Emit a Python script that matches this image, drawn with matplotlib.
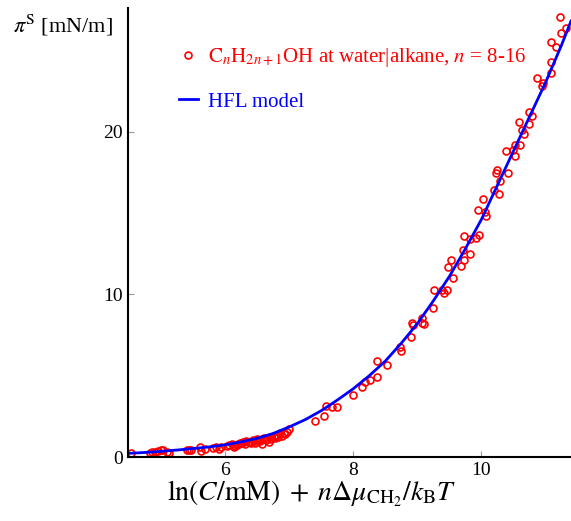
import numpy as np
import matplotlib.pyplot as plt

# measured points: C_nH_2n+1OH at water|alkane
x_data = [4.52, 4.82, 4.86, 4.90, 4.95, 5.00, 5.03, 5.09, 5.12,
          5.40, 5.44, 5.47, 5.60, 5.62, 5.68, 5.81, 5.86, 5.90, 5.93,
          6.02, 6.06, 6.10, 6.13, 6.15, 6.18, 6.20, 6.23, 6.26, 6.28, 6.31, 6.33, 6.36, 6.38, 6.40,
          6.43, 6.46, 6.48, 6.49, 6.52, 6.54, 6.57, 6.58, 6.60, 6.63, 6.65, 6.68, 6.70, 6.72,
          6.76, 6.78, 6.81, 6.83, 6.86, 6.88, 6.91, 6.94, 6.97, 6.99,
          7.40, 7.54, 7.58, 7.66, 7.74, 7.99, 8.13, 8.18, 8.26, 8.37, 8.37, 8.52,
          8.73, 8.74, 8.90, 8.91, 8.93, 9.07, 9.08, 9.11, 9.24, 9.26, 9.38, 9.41, 9.46,
          9.475, 9.53, 9.55, 9.68, 9.72, 9.73, 9.82, 9.73, 9.83, 9.92, 9.97,
          9.94, 10.02, 10.06, 10.08, 10.20, 10.27, 10.23, 10.24, 10.29, 10.41, 10.38, 10.50, 10.53,
          10.53, 10.61, 10.67, 10.63, 10.75, 10.58, 10.79, 10.75, 10.94, 10.97, 10.87,
          11.08, 11.08, 11.09, 11.16, 11.23, 11.24, 11.32]
y_data = [0.25, 0.27, 0.28, 0.31, 0.35, 0.40, 0.43, 0.28, 0.27,
          0.45, 0.42, 0.45, 0.59, 0.35, 0.49, 0.53, 0.60, 0.52, 0.59,
          0.68, 0.72, 0.78, 0.64, 0.70, 0.76, 0.80, 0.88, 0.84, 0.94, 0.80, 0.98, 0.92, 0.94, 0.86,
          1.05, 0.88, 0.98, 1.09, 1.02, 1.00, 0.80, 1.10, 1.15, 1.02, 1.09, 0.94, 1.21, 1.10,
          1.29, 1.15, 1.35, 1.25, 1.46, 1.30, 1.50, 1.42, 1.56, 1.71,
          2.23, 2.54, 3.16, 3.10, 3.10, 3.82, 4.29, 4.63, 4.74, 4.90, 5.89, 5.64,
          6.79, 6.52, 7.37, 8.22, 8.12, 8.53, 8.26, 8.18, 9.15, 10.28, 10.28, 10.07, 10.28,
          11.67, 12.08, 11.00, 11.77, 12.70, 12.12, 12.49, 13.60, 13.40, 13.48, 13.66,
          15.20, 15.88, 15.08, 14.79, 16.39, 16.18, 17.46, 17.66, 16.98, 17.46, 18.79, 18.85, 18.52,
          19.20, 19.20, 19.86, 20.12, 20.49, 20.60, 20.95, 21.20, 22.80, 22.97, 23.32,
          23.63, 24.25, 25.54, 25.21, 27.02, 26.04, 26.40]

# HFL model curve
x_model = [4.48, 4.75, 5.0, 5.25, 5.5, 5.75, 6.0, 6.25, 6.5, 6.75, 7.0, 7.25, 7.5, 7.75,
           8.0, 8.25, 8.5, 8.75, 9.0, 9.25, 9.5, 9.75, 10.0, 10.25, 10.5, 10.75, 11.0, 11.25, 11.4]
y_model = [0.22, 0.28, 0.35, 0.43, 0.52, 0.62, 0.75, 0.93, 1.15, 1.45, 1.85, 2.3, 2.85, 3.5,
           4.2, 5.0, 5.9, 7.0, 8.2, 9.6, 11.1, 12.8, 14.6, 16.7, 18.8, 20.9, 23.0, 25.3, 26.8]

plt.rcParams['font.family'] = ['Liberation Serif', 'DejaVu Serif']
plt.rcParams['mathtext.fontset'] = 'stix'

fig = plt.figure(figsize=(5.71, 5.21), dpi=100)
ax = fig.add_axes([128/571, 64/521, 443/571, 449/521])

ax.plot(x_data, y_data, 'o', mfc='none', mec='red', ms=5, mew=1.2,
        label=r"$\mathrm{C}_n\mathrm{H}_{2n+1}$OH at water|alkane, $n$ = 8-16")
ax.plot(x_model, y_model, color='blue', lw=2, label='HFL model')

ax.set_xlim(4.48, 11.4)
ax.set_ylim(0, 27.6)
ax.set_xticks([6, 8, 10])
ax.set_yticks([0, 10, 20])

for s in ['top', 'right']:
    ax.spines[s].set_visible(False)
for s in ['left', 'bottom']:
    ax.spines[s].set_linewidth(1.5)
ax.tick_params(direction='in', length=4, width=0.8, color='0.6', labelsize=14)

ax.set_xlabel(r"$\ln(C/\mathrm{mM})\;+\;n\Delta\mu_{\mathrm{CH_2}}/k_\mathrm{B}T$", fontsize=20)
ax.xaxis.set_label_coords(0.415, -0.048)
fig.text(13/571, 1 - 25/521, r"$\pi^\mathrm{S}$ [mN/m]", fontsize=16, va='center', ha='left')

leg = ax.legend(loc='upper left', bbox_to_anchor=(0.073, 0.957), frameon=False, fontsize=15,
                numpoints=1, handlelength=0.9, handletextpad=0.5, labelspacing=1.1)
for t, c in zip(leg.get_texts(), ['red', 'blue']):
    t.set_color(c)

fig.savefig('out.png', dpi=100)
